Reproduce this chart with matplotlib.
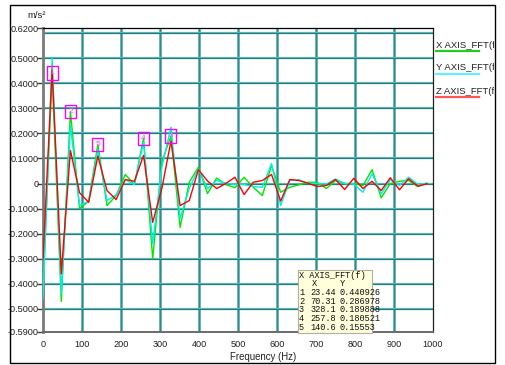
import numpy as np
import matplotlib
matplotlib.use("Agg")
import matplotlib.pyplot as plt
from matplotlib.patches import Rectangle
from matplotlib.lines import Line2D
from matplotlib.transforms import Bbox, TransformedBbox

plt.rcParams['font.family'] = ['Liberation Sans', 'DejaVu Sans']

W, H = 505, 365

# FFT bins (Hz)
freq_hz = [0, 23.44, 46.88, 70.31, 93.75, 117.19, 140.63, 164.06, 187.5, 210.94,
           234.38, 257.81, 281.25, 304.69, 328.13, 351.56, 375, 398.44, 421.88,
           445.31, 468.75, 492.19, 515.63, 539.06, 562.5, 585.94, 609.38, 632.81,
           656.25, 679.69, 703.13, 726.56, 750, 773.44, 796.88, 820.31, 843.75,
           867.19, 890.63, 914.06, 937.5, 960.94, 984.38]

x_fft = [-0.42, 0.440926, -0.47, 0.286978, -0.100, -0.070, 0.15553, -0.088, -0.048,
         0.036, -0.004, 0.180521, -0.300, 0.085, 0.189888, -0.175, 0.005, 0.065,
         -0.040, 0.022, -0.004, -0.017, 0.025, -0.015, -0.048, 0.072, -0.035,
         -0.015, -0.005, 0.005, 0.005, -0.020, 0.012, 0.000, 0.000, -0.008,
         0.055, -0.057, 0.000, 0.009, 0.012, -0.012, 0.002]

y_fft = [-0.46, 0.500, -0.44, 0.232, -0.088, -0.070, 0.135, -0.068, -0.045,
         0.015, -0.004, 0.165, -0.240, 0.065, 0.225, -0.140, -0.020, 0.058,
         -0.020, 0.012, 0.001, -0.004, -0.004, -0.012, -0.015, 0.080, -0.088,
         0.012, 0.015, 0.001, 0.000, -0.002, 0.018, 0.000, -0.002, -0.035,
         0.039, -0.041, 0.015, -0.008, 0.025, -0.003, 0.000]

z_fft = [-0.30, 0.455, -0.36, 0.132, -0.037, -0.075, 0.110, -0.028, -0.064,
         0.016, 0.009, 0.112, -0.155, -0.020, 0.170, -0.088, -0.068, 0.055,
         0.010, -0.020, 0.000, 0.025, -0.044, 0.005, 0.012, 0.036, -0.070,
         0.016, 0.012, 0.001, -0.012, -0.008, 0.016, -0.024, 0.021, -0.020,
         0.009, -0.028, 0.023, -0.025, 0.019, -0.011, -0.001]

series_names = ['X AXIS_FFT(f)', 'Y AXIS_FFT(f)', 'Z AXIS_FFT(f)']

# top peaks of the X axis spectrum
peak_rank = [1, 2, 3, 4, 5]
peak_freq = [23.44, 70.31, 328.1, 257.8, 140.6]
peak_val = [0.440926, 0.286978, 0.189888, 0.180521, 0.15553]
peak_val_txt = ['0.440926', '0.286978', '0.189888', '0.180521', '0.15553']

y_ticks = [0.62, 0.5, 0.4, 0.3, 0.2, 0.1, 0, -0.1, -0.2, -0.3, -0.4, -0.5, -0.59]
x_ticks = [0, 100, 200, 300, 400, 500, 600, 700, 800, 900, 1000]


def px(x, y):
    """pixel (from top-left) -> figure fraction"""
    return x / W, 1 - y / H


fig = plt.figure(figsize=(W / 100, H / 100), dpi=100)
fig.patch.set_facecolor('white')

l, b = px(43, 331.5)
r, t = px(433, 28)
ax = fig.add_axes([l, b, r - l, t - b])
ax.set_xlim(0, 1000)
ax.set_ylim(-0.59, 0.62)

# grid
for gx in x_ticks[1:-1]:
    ax.axvline(gx, color='#5aacac', lw=2.0, zorder=1)
    ax.axvline(gx, color='#2a8c8c', lw=0.7, zorder=1)
for gy in [0.6, 0.5, 0.4, 0.3, 0.2, 0.1, 0, -0.1, -0.2, -0.3, -0.4, -0.5]:
    ax.axhline(gy, color='#6ab4b4', lw=1.6, zorder=1)
    ax.axhline(gy, color='#1c8080', lw=0.8, zorder=1)

colors = ['#00e800', '#00eeee', '#ff0000']
for vals, c in zip([x_fft, y_fft, z_fft], colors):
    ax.plot(freq_hz, vals, color=c, lw=1.0, zorder=3)

for rk, f, v in zip(peak_rank, peak_freq, peak_val):
    ax.text(f, v, str(rk), ha='center', va='center', color='#ff44ff', fontsize=6,
            zorder=5,
            bbox=dict(boxstyle='square,pad=0.38', fc='none', ec='#ff00ff', lw=1.0))

ax.set_yticks(y_ticks)
ax.set_yticklabels(['0' if v == 0 else f'{v:.4f}' for v in y_ticks])
ax.set_xticks(x_ticks)
ax.set_xticklabels([str(v) for v in x_ticks])
ax.tick_params(axis='y', length=4, width=1, color='#404040', pad=-1,
               labelsize=6.6, labelcolor='#202020')
ax.tick_params(axis='x', length=0, pad=6, labelsize=6.6, labelcolor='#202020')

ax.spines['left'].set_color('#7a7a7a')
ax.spines['left'].set_linewidth(2.0)
ax.spines['bottom'].set_color('#6a6a6a')
ax.spines['bottom'].set_linewidth(1.4)
ax.spines['top'].set_color('black')
ax.spines['top'].set_linewidth(0.9)
ax.spines['right'].set_color('#202020')
ax.spines['right'].set_linewidth(0.9)

# outer frame
fx, fy = px(9.5, 363)
fx2, fy2 = px(495, 5)
fig.add_artist(Rectangle((fx, fy), fx2 - fx, fy2 - fy, transform=fig.transFigure,
                         fill=False, ec='black', lw=1.0))

fig.text(*px(27, 16), 'm/s²', fontsize=6.8, ha='left', va='center', color='#202020')
fig.text(*px(263, 357), 'Frequency (Hz)', fontsize=6.9, ha='center', va='center',
         color='#202020')

# legend on the right
clip = TransformedBbox(Bbox([[0, 0], [494 / W, 1]]), fig.transFigure)
under_colors = ['#22cc22', '#66eeff', '#ff5555']
for i, (name, uc) in enumerate(zip(series_names, under_colors)):
    ty = 45 + 23 * i
    txt = fig.text(*px(435.5, ty), name, fontsize=6.8, ha='left', va='center',
                   color='#202020')
    txt.set_clip_box(clip)
    txt.set_clip_on(True)
    x0, y0 = px(436, ty + 6)
    x1, _ = px(479, ty + 6)
    fig.add_artist(Line2D([x0, x1], [y0, y0], transform=fig.transFigure,
                          color=uc, lw=1.6))

# peak table
bx0, by0 = px(298, 333)
bx1, by1 = px(372, 270)
fig.add_artist(Rectangle((bx0, by0), bx1 - bx0, by1 - by0, transform=fig.transFigure,
                         fc='#ffffdc', ec='#b0b0a0', lw=0.8, zorder=10))
mono = dict(family='Liberation Mono', fontsize=6.2, va='center', ha='left',
            color='#101010', zorder=11)
fig.text(*px(299, 275.3), series_names[0], **mono)
fig.text(*px(311.5, 283.3), 'X', **mono)
fig.text(*px(339.5, 283.3), 'Y', **mono)
for i, (rk, f, vt) in enumerate(zip(peak_rank, peak_freq, peak_val_txt)):
    ry = 292.3 + 8.75 * i
    fig.text(*px(299, ry), str(rk), **mono)
    fig.text(*px(310.5, ry), f'{f:.2f}' if f < 100 else f'{f:.1f}', **mono)
    fig.text(*px(340, ry), vt, **mono)

fig.savefig('out.png', dpi=100)
